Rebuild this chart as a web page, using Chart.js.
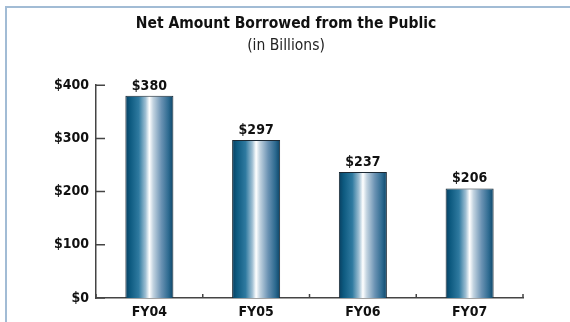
<!DOCTYPE html>
<html>
<head>
<meta charset="utf-8">
<title>Net Amount Borrowed from the Public</title>
<script src="https://cdn.jsdelivr.net/npm/chart.js@4.4.1/dist/chart.umd.min.js"></script>
<style>
    body {
        margin: 0;
        background: #ffffff;
        overflow: hidden;
    }
</style>
</head>
<body>
<canvas id="borrowedChart" width="570" height="322"></canvas>
<script>
// Chart data
const fiscalYears = ['FY04', 'FY05', 'FY06', 'FY07'];
const amountBorrowed = [380, 297, 237, 206];
const yTickValues = [0, 100, 200, 300, 400];

const condensedFont = "'Liberation Sans Narrow', 'DejaVu Sans Condensed', 'Arial Narrow', sans-serif";
const barFraction = 0.45;
const axisColor = '#444444';

// Horizontal shading across each bar: dark edges, white highlight near the middle
function barGradient(context) {
    const chart = context.chart;
    const xScale = chart.scales.x;
    if (!chart.chartArea || !xScale || context.dataIndex === undefined) {
        return '#0e5a82';
    }
    const center = xScale.getPixelForValue(context.dataIndex);
    const half = (xScale.width / fiscalYears.length) * barFraction / 2;
    const g = chart.ctx.createLinearGradient(center - half, 0, center + half, 0);
    g.addColorStop(0.00, '#083f60');
    g.addColorStop(0.10, '#0d5a80');
    g.addColorStop(0.28, '#2f7aa0');
    g.addColorStop(0.42, '#9fbfd3');
    g.addColorStop(0.50, '#ffffff');
    g.addColorStop(0.58, '#c2d3e0');
    g.addColorStop(0.75, '#6a92b3');
    g.addColorStop(0.90, '#2d6a90');
    g.addColorStop(1.00, '#0a4467');
    return g;
}

// Light blue frame along the top and left edges
const framePlugin = {
    id: 'framePlugin',
    beforeDraw(chart) {
        const ctx = chart.ctx;
        ctx.save();
        ctx.strokeStyle = '#a2bcd5';
        ctx.lineWidth = 2;
        ctx.beginPath();
        ctx.moveTo(6, chart.height);
        ctx.lineTo(6, 7);
        ctx.lineTo(chart.width, 7);
        ctx.stroke();
        ctx.restore();
    }
};

// Short tick marks pointing into the plot: right of the y axis, up from the x axis
const innerTicks = {
    id: 'innerTicks',
    afterDraw(chart) {
        const ctx = chart.ctx;
        const xScale = chart.scales.x;
        const yScale = chart.scales.y;
        ctx.save();
        ctx.strokeStyle = axisColor;
        ctx.lineWidth = 1.5;
        ctx.beginPath();
        yScale.ticks.forEach(t => {
            const y = yScale.getPixelForValue(t.value);
            ctx.moveTo(xScale.left, y);
            ctx.lineTo(xScale.left + 9, y);
        });
        const step = xScale.width / fiscalYears.length;
        for (let i = 0; i <= fiscalYears.length; i++) {
            const x = xScale.left + i * step;
            ctx.moveTo(x, yScale.bottom);
            ctx.lineTo(x, yScale.bottom - 4);
        }
        ctx.stroke();
        ctx.restore();
    }
};

// Value labels above each bar
const barValueLabels = {
    id: 'barValueLabels',
    afterDatasetsDraw(chart) {
        const ctx = chart.ctx;
        const meta = chart.getDatasetMeta(0);
        ctx.save();
        ctx.font = "bold 14px " + condensedFont;
        ctx.fillStyle = '#111111';
        ctx.textAlign = 'center';
        ctx.textBaseline = 'alphabetic';
        meta.data.forEach((bar, i) => {
            ctx.fillText('$' + amountBorrowed[i], bar.x, bar.y - 6);
        });
        ctx.restore();
    }
};

const ctx = document.getElementById('borrowedChart');

new Chart(ctx, {
    type: 'bar',
    data: {
        labels: fiscalYears,
        datasets: [{
            data: amountBorrowed,
            backgroundColor: barGradient,
            borderColor: '#1b2833',
            borderWidth: 1,
            barPercentage: barFraction,
            categoryPercentage: 1.0
        }]
    },
    options: {
        responsive: false,
        animation: false,
        layout: {
            // equal side padding keeps the title centred on the canvas
            padding: { left: 49, right: 47, top: 0, bottom: 0 }
        },
        plugins: {
            legend: { display: false },
            tooltip: { enabled: false },
            title: {
                display: true,
                text: 'Net Amount Borrowed from the Public',
                color: '#111111',
                font: { family: condensedFont, size: 15.5, weight: 'bold', lineHeight: 1.2 },
                padding: { top: 15, bottom: 0 }
            },
            subtitle: {
                display: true,
                text: '(in Billions)',
                color: '#222222',
                font: { family: condensedFont, size: 15.5, weight: 'normal', lineHeight: 1.2 },
                padding: { top: 3, bottom: 30 }
            }
        },
        scales: {
            x: {
                afterFit: function(scale) { scale.height = 24; },
                grid: { display: false, drawTicks: false },
                border: { display: true, color: axisColor, width: 1.5 },
                ticks: {
                    color: '#111111',
                    padding: 6,
                    font: { family: condensedFont, size: 14, weight: 'bold' }
                }
            },
            y: {
                min: 0,
                max: 400,
                afterFit: function(scale) { scale.width = 47; },
                afterBuildTicks: function(scale) {
                    scale.ticks = yTickValues.map(v => ({ value: v }));
                },
                grid: { display: false, drawTicks: false },
                border: { display: true, color: axisColor, width: 1.5 },
                ticks: {
                    color: '#111111',
                    padding: 7,
                    font: { family: condensedFont, size: 14, weight: 'bold' },
                    callback: function(value) {
                        return '$' + value;
                    }
                }
            }
        }
    },
    plugins: [framePlugin, innerTicks, barValueLabels]
});
</script>
</body>
</html>
